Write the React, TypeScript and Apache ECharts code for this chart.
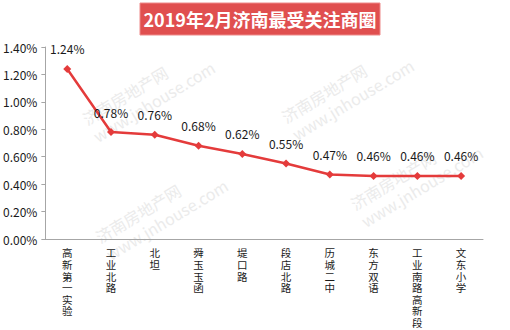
import React, { useEffect, useRef } from "react";
import * as echarts from "echarts";

const categories = ["高新第一实验", "工业北路", "北坦", "舜玉玉函", "堤口路", "段店北路", "历城二中", "东方双语", "工业南路高新段", "文东小学"];
const values = [1.24, 0.78, 0.76, 0.68, 0.62, 0.55, 0.47, 0.46, 0.46, 0.46];
const yTicks = [0, 0.2, 0.4, 0.6, 0.8, 1.0, 1.2, 1.4];
const titleText = "2019年2月济南最受关注商圈";
const watermarkTop = "济南房地产网";
const watermarkBottom = "www.jnhouse.com";

const FONT = "'Noto Sans CJK SC', 'Noto Sans', sans-serif";

export default function App() {
  const ref = useRef<HTMLDivElement>(null);
  useEffect(() => {
    if (!ref.current) return;
    const chart = echarts.init(ref.current, undefined, { renderer: "svg" });
    const wm = (x: number, y: number) => ({
      type: "group",
      x,
      y,
      rotation: (31 * Math.PI) / 180,
      silent: true,
      z: 0,
      children: [
        { type: "text", x: 0, y: 0, style: { text: watermarkTop, fill: "#ebebeb", font: `16px ${FONT}`, textVerticalAlign: "middle" } },
        { type: "text", x: 0, y: 20, style: { text: watermarkBottom, fill: "#ebebeb", font: `16px ${FONT}`, textVerticalAlign: "middle" } },
      ],
    });
    chart.setOption({
      animation: false,
      backgroundColor: "#ffffff",
      textStyle: { fontFamily: FONT },
      grid: { left: 44, right: 27, top: 47, bottom: 91, containLabel: false },
      graphic: [
        wm(84, 120),
        wm(283, 118),
        wm(97, 238),
        wm(352, 205),
        {
          type: "rect",
          shape: { x: 140, y: 3, width: 240, height: 32 },
          style: { fill: "#e04f4f", stroke: "#ee8a8a", lineWidth: 1 },
          z: 10,
        },
        {
          type: "text",
          x: 260,
          y: 19,
          z: 11,
          style: {
            text: titleText,
            fill: "#ffffff",
            font: `bold 18px ${FONT}`,
            textAlign: "center",
            textVerticalAlign: "middle",
          },
        },
      ],
      xAxis: {
        type: "category",
        data: categories,
        boundaryGap: true,
        axisLine: { lineStyle: { color: "#a6a6a6", width: 1 } },
        axisTick: { show: false },
        axisLabel: {
          interval: 0,
          color: "#1a1a1a",
          fontSize: 10.5,
          lineHeight: 11.6,
          margin: 8,
          verticalAlign: "top",
          formatter: (v: string) => v.split("").join("\n"),
        },
      },
      yAxis: {
        type: "value",
        min: 0,
        max: 1.4,
        interval: 0.2,
        splitLine: { show: false },
        axisLine: { show: true, lineStyle: { color: "#a6a6a6", width: 1 } },
        axisTick: { show: true, length: 4, lineStyle: { color: "#a6a6a6" } },
        axisLabel: {
          color: "#1a1a1a",
          fontSize: 12,
          margin: 8,
          formatter: (v: number) => {
            const t = yTicks.find((k) => Math.abs(k - v) < 1e-6);
            return (t !== undefined ? t : v).toFixed(2) + "%";
          },
        },
      },
      series: [
        {
          type: "line",
          data: values,
          z: 5,
          symbol: "diamond",
          symbolSize: 8,
          lineStyle: { color: "#e43b3b", width: 2.5 },
          itemStyle: { color: "#e43b3b" },
          label: {
            show: true,
            position: "top",
            distance: 10,
            color: "#1a1a1a",
            fontSize: 12,
            formatter: (p: any) => p.value.toFixed(2) + "%",
          },
        },
      ],
    });
    return () => chart.dispose();
  }, []);
  return <div ref={ref} style={{ position: "fixed", left: 0, top: 0, width: 510, height: 330 }} />;
}
